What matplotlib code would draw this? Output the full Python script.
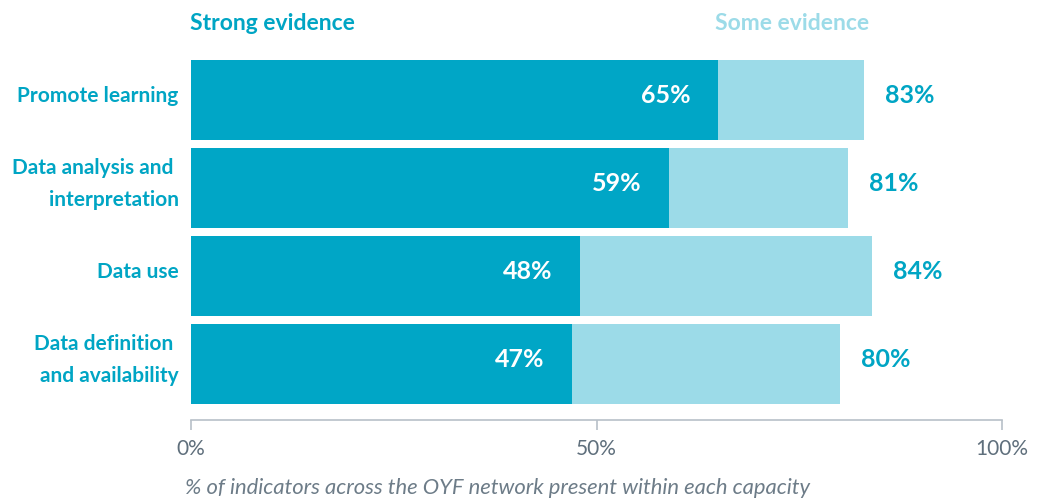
import matplotlib
matplotlib.use("Agg")
import matplotlib.pyplot as plt

# Data
categories = ["Promote learning", "Data analysis and \ninterpretation",
              "Data use", "Data definition \nand availability"]
strong = [65, 59, 48, 47]       # strong evidence (%)
total = [83, 81, 84, 80]        # strong + some evidence (%)
some = [t - s for t, s in zip(total, strong)]

tick_vals = [0, 50, 100]
tick_labels = ["0%", "50%", "100%"]

DARK = "#00a6c6"
LIGHT = "#9cdbe8"
TEXT = "#00a5c4"
GREY = "#b8c0c8"
GREY_TXT = "#5f6f7c"

plt.rcParams["font.family"] = ["Lato", "DejaVu Sans"]

fig = plt.figure(figsize=(10.45, 4.99), dpi=100)
ax = fig.add_axes([191 / 1045, 79 / 499, 811 / 1045, 364 / 499])

y = list(range(len(categories)))
ax.barh(y, strong, height=80 / 88, color=DARK, linewidth=0)
ax.barh(y, some, left=strong, height=80 / 88, color=LIGHT, linewidth=0)

for i in y:
    ax.annotate(f"{strong[i]}%", (strong[i], i), xytext=(-20, 3),
                textcoords="offset points", ha="right", va="center",
                color="white", fontsize=18, fontweight="bold")
    ax.annotate(f"{total[i]}%", (total[i], i), xytext=(15, 3),
                textcoords="offset points", ha="left", va="center",
                color=TEXT, fontsize=18, fontweight="bold")
    # category label to the left of the axis
    ax.annotate(categories[i], (0, i), xytext=(-9, 3),
                textcoords="offset points", ha="right", va="center",
                multialignment="right", linespacing=1.75,
                color=TEXT, fontsize=15, fontweight="bold",
                annotation_clip=False)

ax.set_xlim(0, 100)
ax.set_ylim(3 + 56 / 88, -0.5)
ax.set_yticks([])

ax.set_xticks(tick_vals)
ax.set_xticklabels(tick_labels, fontsize=15, color=GREY_TXT)
ax.tick_params(axis="x", length=7.5, width=1.2, color=GREY, pad=6)

for side in ["top", "right", "left"]:
    ax.spines[side].set_visible(False)
ax.spines["bottom"].set_color(GREY)
ax.spines["bottom"].set_linewidth(1.2)

# Series headings
fig.text(190 / 1045, 1 - 23 / 499, "Strong evidence", ha="left", va="center",
         fontsize=16.5, fontweight="bold", color=TEXT)
fig.text(715 / 1045, 1 - 24 / 499, "Some evidence", ha="left", va="center",
         fontsize=16.5, fontweight="bold", color=LIGHT)

fig.text(185 / 1045, 1 - 488 / 499,
         "% of indicators across the OYF network present within each capacity",
         ha="left", va="center", fontsize=15.8, style="italic",
         color="#6d7c88")

fig.savefig("out.png", dpi=100)
